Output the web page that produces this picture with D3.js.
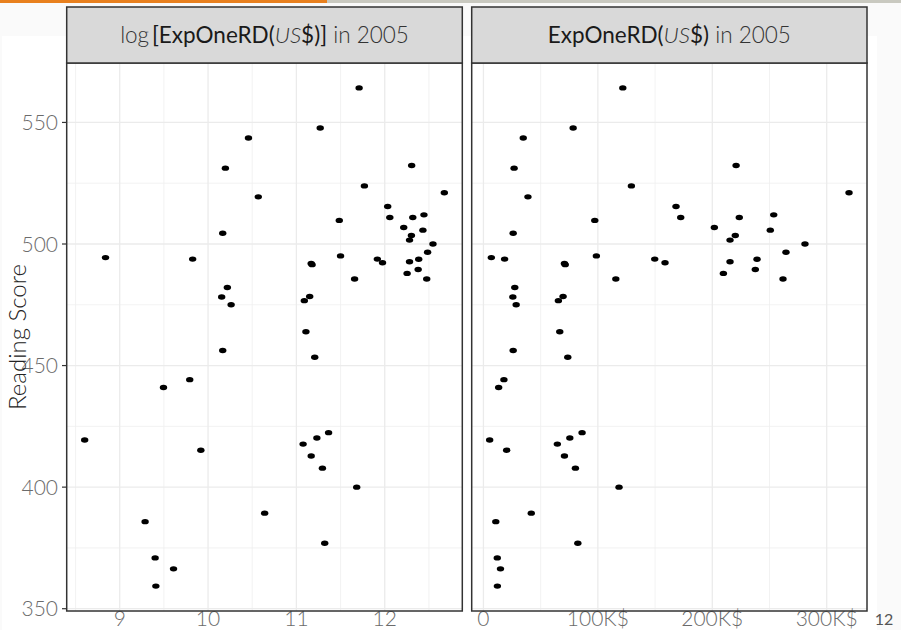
<!DOCTYPE html>
<meta charset="utf-8">
<head>
 <title>Reading Score vs ExpOneRD</title>
</head>

<style>
body {
  margin: 0;
  background: #fafafa;
}
svg text {
  font-family: Lato, "Open Sans", sans-serif;
}
</style>

<body>

<!-- two facet panels: log spending and raw spending -->
<svg width="901" height="630"></svg>

<script src="https://d3js.org/d3.v7.min.js"></script>
<script>
// spending per student (US$) and reading score, one entry per country
var expOneRD = [5450, 6900, 13300, 17900, 10800, 12100, 14900, 12200, 20300, 18500,
  34800, 26800, 38900, 26000, 27400, 25700, 28600, 26000, 41800, 121800,
  78400, 220800, 129300, 319500, 168300, 172400, 223600, 253700, 97300, 201800,
  250700, 220100, 215500, 281000, 264400, 98700, 149700, 158700, 215500, 239100,
  70800, 71500, 209700, 237600, 261800, 115700, 69600, 65500, 66700, 73700,
  86200, 75500, 64600, 70800, 80400, 118500, 82500]
var reading = [419.4, 494.4, 441.0, 444.2, 385.8, 370.9, 366.4, 359.3, 415.2, 493.8,
  543.6, 531.2, 519.4, 504.4, 482.1, 478.2, 475.0, 456.2, 389.3, 564.2,
  547.7, 532.3, 523.9, 521.1, 515.4, 510.9, 510.9, 512.0, 509.7, 506.8,
  505.7, 503.5, 501.6, 500.0, 496.6, 495.1, 493.8, 492.3, 492.7, 493.7,
  492.0, 491.5, 487.9, 489.5, 485.6, 485.6, 478.4, 476.7, 463.9, 453.4,
  422.4, 420.2, 417.7, 412.8, 407.8, 400.0, 376.9]

var scoreTicks = [350, 400, 450, 500, 550]
var scoreMinor = [375, 425, 475, 525]
var logTicks = [9, 10, 11, 12]
var logMinor = [8.5, 9.5, 10.5, 11.5, 12.5]
var expTicks = [0, 100000, 200000, 300000]
var expMinor = [50000, 150000, 250000]

var svg = d3.select('svg')
var panelTop = 63, panelBottom = 611, stripTop = 7

// slide chrome
svg.append('rect').attr('x', 0).attr('y', 0).attr('width', 901).attr('height', 3).attr('fill', '#c9c9c0')
svg.append('rect').attr('x', 0).attr('y', 0).attr('width', 327).attr('height', 3).attr('fill', '#e8801e')
svg.append('rect').attr('x', 2).attr('y', 36).attr('width', 875).attr('height', 594).attr('fill', '#fff')

// ggplot style 5% expansion
function expand(ext) {
  var pad = (ext[1] - ext[0]) * 0.05
  return [ext[0] - pad, ext[1] + pad]
}

var y = d3.scaleLinear().domain(expand(d3.extent(reading))).range([panelBottom, panelTop])

var panels = [
  {x0: 66.7, x1: 462.3, val: function(v) { return Math.log(v) },
   ticks: logTicks, minor: logMinor, fmt: function(t) { return t }},
  {x0: 471.7, x1: 867, val: function(v) { return v },
   ticks: expTicks, minor: expMinor, fmt: function(t) { return t == 0 ? '0' : (t / 1000) + 'K$' }}
]

panels.forEach(function(p, k) {
  var vals = expOneRD.map(p.val)
  var x = d3.scaleLinear().domain(expand(d3.extent(vals))).range([p.x0, p.x1])
  var g = svg.append('g')
  var h = panelBottom - panelTop

  g.append('rect').attr('x', p.x0).attr('y', panelTop).attr('width', p.x1 - p.x0).attr('height', h).attr('fill', '#fff')

  // grid
  g.selectAll('.vmin').data(p.minor).enter().append('line')
    .attr('x1', function(d) { return x(d) }).attr('x2', function(d) { return x(d) })
    .attr('y1', panelTop).attr('y2', panelBottom).attr('stroke', '#efefef').attr('stroke-width', 0.8)
  g.selectAll('.hmin').data(scoreMinor).enter().append('line')
    .attr('x1', p.x0).attr('x2', p.x1)
    .attr('y1', function(d) { return y(d) }).attr('y2', function(d) { return y(d) })
    .attr('stroke', '#efefef').attr('stroke-width', 0.8)
  g.selectAll('.vmaj').data(p.ticks).enter().append('line')
    .attr('x1', function(d) { return x(d) }).attr('x2', function(d) { return x(d) })
    .attr('y1', panelTop).attr('y2', panelBottom).attr('stroke', '#ebebeb').attr('stroke-width', 1.3)
  g.selectAll('.hmaj').data(scoreTicks).enter().append('line')
    .attr('x1', p.x0).attr('x2', p.x1)
    .attr('y1', function(d) { return y(d) }).attr('y2', function(d) { return y(d) })
    .attr('stroke', '#ebebeb').attr('stroke-width', 1.3)

  // points
  g.selectAll('ellipse').data(vals).enter().append('ellipse')
    .attr('cx', function(d) { return x(d) })
    .attr('cy', function(d, i) { return y(reading[i]) })
    .attr('rx', 3.7).attr('ry', 2.7).attr('fill', '#000')

  // x tick labels
  g.selectAll('.xl').data(p.ticks).enter().append('text')
    .attr('x', function(d) { return x(d) }).attr('y', 626)
    .attr('text-anchor', 'middle').attr('font-size', 21).attr('font-weight', 300)
    .attr('fill', '#6b6b6b').text(p.fmt)

  // border
  g.append('rect').attr('x', p.x0).attr('y', panelTop).attr('width', p.x1 - p.x0).attr('height', h)
    .attr('fill', 'none').attr('stroke', '#333').attr('stroke-width', 1.5)

  // strip
  g.append('rect').attr('x', p.x0).attr('y', stripTop).attr('width', p.x1 - p.x0).attr('height', panelTop - stripTop)
    .attr('fill', '#d9d9d9').attr('stroke', '#333').attr('stroke-width', 1.5)
  var st = g.append('text').attr('x', (p.x0 + p.x1) / 2).attr('y', 43)
    .attr('text-anchor', 'middle').attr('font-size', 22.5).attr('fill', '#333')
  if (k == 0) st.append('tspan').attr('font-weight', 300).text('log\u2009')
  st.append('tspan').attr('fill', '#1a1a1a').text(k == 0 ? '[ExpOneRD(' : 'ExpOneRD(')
  st.append('tspan').attr('font-style', 'italic').attr('font-weight', 300).text('US')
  st.append('tspan').attr('fill', '#1a1a1a').text(k == 0 ? '$)]' : '$)')
  st.append('tspan').attr('font-weight', 300).text(' in 2005')
})

// y axis ticks + labels
svg.selectAll('.yt').data(scoreTicks).enter().append('line')
  .attr('x1', 62).attr('x2', 66.7)
  .attr('y1', function(d) { return y(d) }).attr('y2', function(d) { return y(d) })
  .attr('stroke', '#333').attr('stroke-width', 1.2)
svg.selectAll('.yl').data(scoreTicks).enter().append('text')
  .attr('x', 58).attr('y', function(d) { return y(d) + 7.5 })
  .attr('text-anchor', 'end').attr('font-size', 21).attr('font-weight', 300)
  .attr('fill', '#6b6b6b').text(function(d) { return d })

svg.append('text').attr('transform', 'translate(26,337) rotate(-90)')
  .attr('text-anchor', 'middle').attr('font-size', 24).attr('font-weight', 300)
  .attr('fill', '#222').text('Reading Score')

// slide number
svg.append('text').attr('x', 884).attr('y', 625).attr('text-anchor', 'middle')
  .attr('font-size', 16).attr('fill', '#555').text('12')
</script>

</body>
</html>
